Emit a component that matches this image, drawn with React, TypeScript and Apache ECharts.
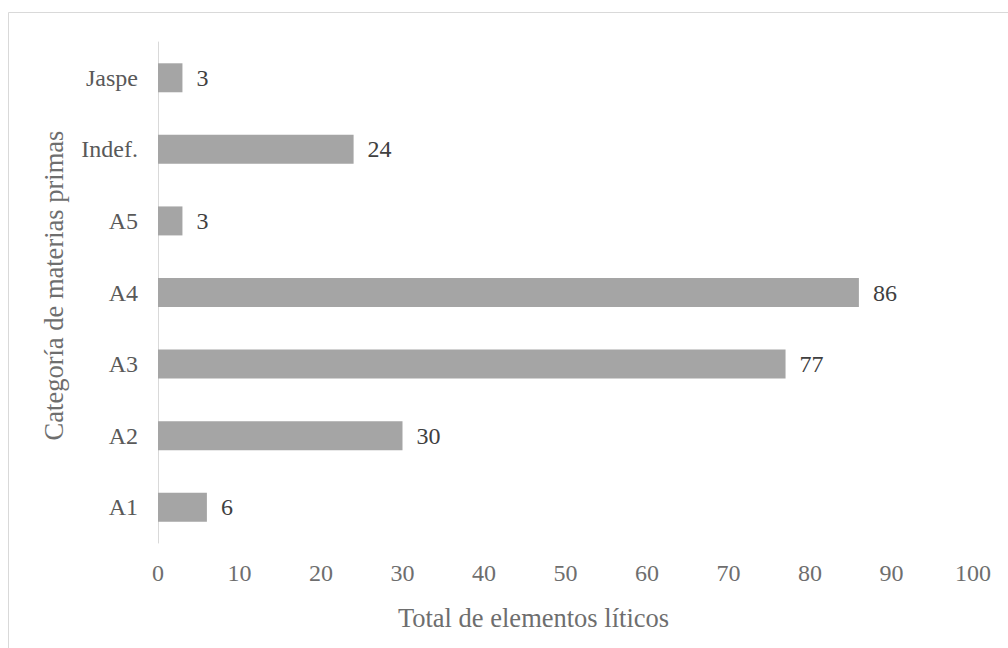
import React, { useEffect, useRef } from "react";
import * as echarts from "echarts";

const categories = ["A1", "A2", "A3", "A4", "A5", "Indef.", "Jaspe"];
const values = [6, 30, 77, 86, 3, 24, 3];
const xTitle = "Total de elementos líticos";
const yTitle = "Categoría de materias primas";
const FONT = "Times New Roman, Liberation Serif, serif";

export default function App() {
  const ref = useRef<HTMLDivElement>(null);
  useEffect(() => {
    if (!ref.current) return;
    const chart = echarts.init(ref.current, undefined, { renderer: "svg" });
    chart.setOption({
      animation: false,
      backgroundColor: "#ffffff",
      textStyle: { fontFamily: FONT },
      graphic: [
        {
          type: "rect",
          shape: { x: 8.5, y: 12.5, width: 1200, height: 1000 },
          style: { fill: "none", stroke: "#d9d9d9", lineWidth: 1 },
          silent: true,
        },
      ],
      grid: { left: 158, right: 35, top: 42, bottom: 105, containLabel: false },
      xAxis: {
        type: "value",
        min: 0,
        max: 100,
        interval: 10,
        name: xTitle,
        nameLocation: "middle",
        nameGap: 61,
        nameTextStyle: {
          fontFamily: FONT,
          fontSize: 26.5,
          color: "#6e6e6e",
          padding: [0, 64, 0, 0],
        },
        axisLine: { show: false },
        axisTick: { show: false },
        splitLine: { show: false },
        axisLabel: { fontFamily: FONT, fontSize: 24, color: "#6e6e6e", margin: 18 },
      },
      yAxis: {
        type: "category",
        data: categories,
        name: yTitle,
        nameLocation: "middle",
        nameGap: 91,
        nameTextStyle: {
          fontFamily: FONT,
          fontSize: 26.5,
          color: "#6e6e6e",
          padding: [0, 0, 0, 14],
        },
        axisLine: { show: true, lineStyle: { color: "#d9d9d9", width: 1 } },
        axisTick: { show: false },
        axisLabel: { fontFamily: FONT, fontSize: 24, color: "#595959", margin: 20 },
      },
      series: [
        {
          type: "bar",
          data: values,
          barCategoryGap: "59.5%",
          itemStyle: { color: "#a5a5a5" },
          label: {
            show: true,
            position: "right",
            distance: 14,
            fontFamily: FONT,
            fontSize: 24,
            color: "#404040",
          },
        },
      ],
    });
    return () => chart.dispose();
  }, []);
  return (
    <div
      ref={ref}
      style={{ position: "fixed", left: 0, top: 0, width: 1008, height: 648 }}
    />
  );
}
